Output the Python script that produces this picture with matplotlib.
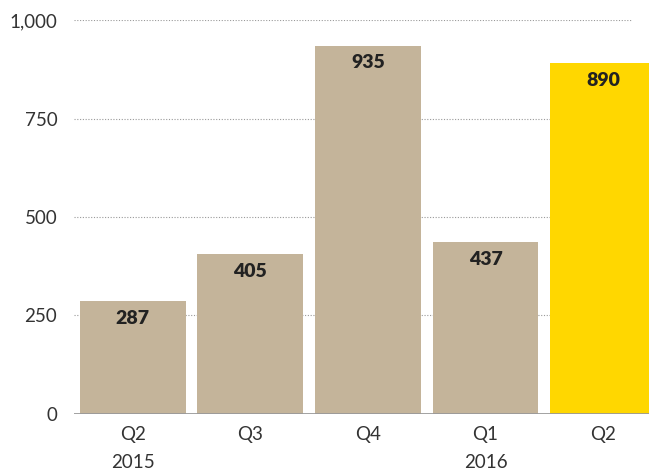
import matplotlib
matplotlib.use("Agg")
import matplotlib.pyplot as plt
from matplotlib.ticker import FuncFormatter

categories = ["Q2\n2015", "Q3", "Q4", "Q1\n2016", "Q2"]
values = [287, 405, 935, 437, 890]
colors = ["#C4B49A", "#C4B49A", "#C4B49A", "#C4B49A", "#FFD700"]
yticks = [0, 250, 500, 750, 1000]

plt.rcParams['font.family'] = ['Lato', 'DejaVu Sans']

fig = plt.figure(figsize=(6.49, 4.72), dpi=100)
ax = fig.add_axes([0.114, 0.1229, 0.886, 0.8347])

x = list(range(len(values)))
bars = ax.bar(x, values, width=0.9, color=colors, zorder=3)

for xi, v in zip(x, values):
    ax.annotate(f"{v}", xy=(xi, v), xytext=(0, -12.5), textcoords="offset points",
                ha="center", va="center", fontsize=14, fontweight="heavy",
                color="#222222", zorder=4)

ax.set_xlim(-0.5, 4.39)
ax.set_ylim(0, 1000)
ax.set_yticks(yticks)
ax.yaxis.set_major_formatter(FuncFormatter(lambda v, p: f"{int(v):,}"))
for t in yticks[1:]:
    ax.axhline(t, xmin=0, xmax=0.97, color="#999999", linestyle=(0, (1, 1.5)),
               linewidth=0.8, zorder=1)
ax.axhline(0, color="#999999", linewidth=2, zorder=5)

ax.set_xticks(x)
ax.set_xticklabels(categories, linespacing=1.75)
ax.tick_params(axis="both", length=0, labelsize=13.5, colors="#333333")
ax.tick_params(axis="y", pad=12)
ax.tick_params(axis="x", pad=9)
for lab in ax.get_xticklabels():
    lab.set_verticalalignment("top")

for s in ax.spines.values():
    s.set_visible(False)

fig.savefig("out.png", dpi=100)
